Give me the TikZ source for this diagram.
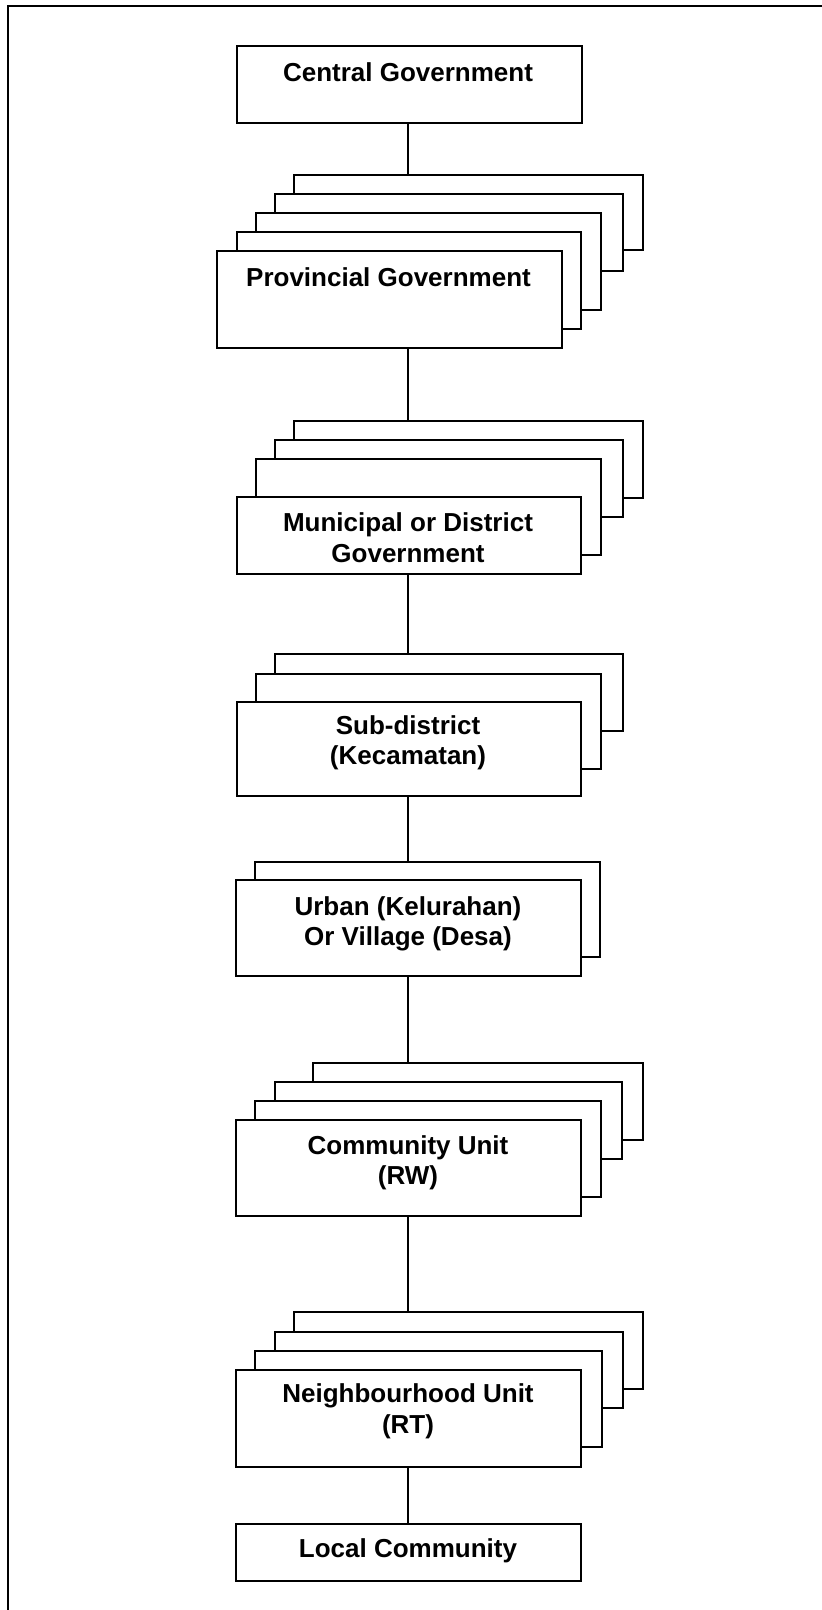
\documentclass[tikz,border=0pt]{standalone}
\usepackage{fontspec}
\setmainfont{Liberation Sans}
\begin{document}
\begin{tikzpicture}[x=1pt,y=-1pt,
  box/.style={draw, line width=1.8pt, fill=white, inner sep=0pt, anchor=north west},
  lbl/.style={inner sep=0pt, align=center, font=\fontsize{26}{30.5}\selectfont\bfseries},
  conn/.style={line width=1.3pt}]
\useasboundingbox (0,0) rectangle (822,1610);
% frame (top and left edges)
\coordinate (fl) at (8,1610);
\coordinate (fc) at (8,6);
\coordinate (fr) at (822,6);
\draw[line width=2pt] (fl) -- (fc) -- (fr);
\coordinate (axis) at (408,0);
% Central
\node[box, minimum width=345pt, minimum height=77pt] (cg) at (236,45) {};
% Provincial stack
\node[box, minimum width=349pt, minimum height=75pt] (pg5) at (293,174) {};
\node[box, minimum width=348pt, minimum height=77pt] (pg4) at (274,193) {};
\node[box, minimum width=345pt, minimum height=97pt] (pg3) at (255,212) {};
\node[box, minimum width=344pt, minimum height=97pt] (pg2) at (236,231) {};
\node[box, minimum width=345pt, minimum height=97pt] (pg) at (216,250) {};
% Municipal stack
\node[box, minimum width=349pt, minimum height=77pt] (md4) at (293,420) {};
\node[box, minimum width=348pt, minimum height=77pt] (md3) at (274,439) {};
\node[box, minimum width=345pt, minimum height=96pt] (md2) at (255,458) {};
\node[box, minimum width=344pt, minimum height=77pt] (md) at (236,496) {};
% Sub-district stack
\node[box, minimum width=348pt, minimum height=77pt] (sd3) at (274,653) {};
\node[box, minimum width=345pt, minimum height=95pt] (sd2) at (255,673) {};
\node[box, minimum width=344pt, minimum height=94pt] (sd) at (236,701) {};
% Urban stack
\node[box, minimum width=345pt, minimum height=95pt] (uv2) at (254,861) {};
\node[box, minimum width=345pt, minimum height=96pt] (uv) at (235,879) {};
% Community stack
\node[box, minimum width=330pt, minimum height=77pt] (cu4) at (312,1062) {};
\node[box, minimum width=347pt, minimum height=77pt] (cu3) at (274,1081) {};
\node[box, minimum width=346pt, minimum height=96pt] (cu2) at (254,1100) {};
\node[box, minimum width=345pt, minimum height=96pt] (cu) at (235,1119) {};
% Neighbourhood stack
\node[box, minimum width=349pt, minimum height=77pt] (nu4) at (293,1311) {};
\node[box, minimum width=348pt, minimum height=76pt] (nu3) at (274,1331) {};
\node[box, minimum width=347pt, minimum height=96pt] (nu2) at (254,1350) {};
\node[box, minimum width=345pt, minimum height=97pt] (nu) at (235,1369) {};
% Local community
\node[box, minimum width=345pt, minimum height=57pt] (lc) at (235,1523) {};
% texts
\node[lbl, anchor=base] (tcg) at (408,81) {Central Government};
\node[lbl, anchor=base] (tpg) at (388.5,286.7) {Provincial Government};
\node[lbl] (tmd) at (408,540.9) {\strut Municipal or District\\\strut Government};
\node[lbl] (tsd) at (408,743.5) {\strut Sub-district\\\strut (Kecamatan)};
\node[lbl] (tuv) at (408,924.2) {\strut Urban (Kelurahan)\\\strut Or Village (Desa)};
\node[lbl] (tcu) at (408,1163.2) {\strut Community Unit\\\strut (RW)};
\node[lbl] (tnu) at (408,1411.9) {\strut Neighbourhood Unit\\\strut (RT)};
\node[lbl, anchor=base] (tlc) at (408,1557.7) {Local Community};
% connectors
\draw[conn] (cg.south -| axis) -- (axis |- pg5.north);
\draw[conn] (pg.south -| axis) -- (axis |- md4.north);
\draw[conn] (md.south -| axis) -- (axis |- sd3.north);
\draw[conn] (sd.south -| axis) -- (axis |- uv2.north);
\draw[conn] (uv.south -| axis) -- (axis |- cu4.north);
\draw[conn] (cu.south -| axis) -- (axis |- nu4.north);
\draw[conn] (nu.south -| axis) -- (axis |- lc.north);
\end{tikzpicture}
\end{document}
